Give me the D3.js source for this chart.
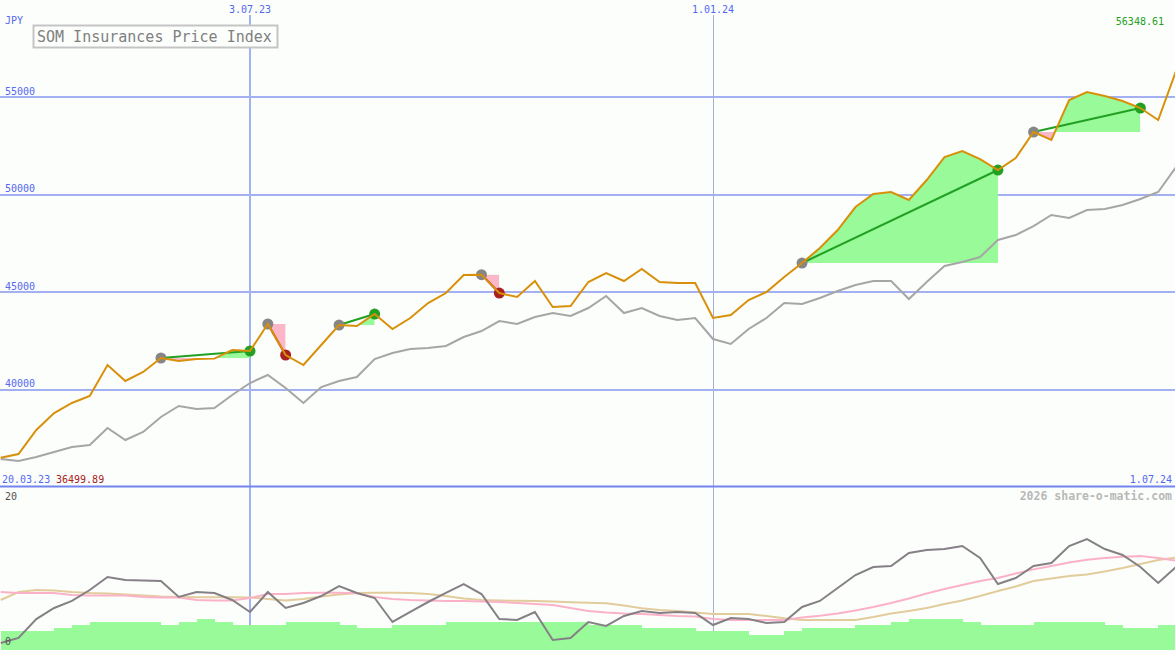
<!DOCTYPE html>
<html><head><meta charset="utf-8">
<script src="https://cdn.jsdelivr.net/npm/d3@7"></script>
<style>
html,body{margin:0;padding:0;background:#fcfefc;}
svg{display:block;}
text{font-family:"DejaVu Sans Mono",monospace;}
</style></head>
<body>
<svg id="chart" width="1175" height="650"></svg>
<script>
// ---- data (weekly, Mondays) ----
const startDate = "2023-03-27", endDate = "2024-07-02";
const priceIndex = [36499.89,36694,37926,38798,39312,39671,41262,40441,40903,41622,
  41468,41570,41590,42032,41981,43367,41776,41262,42289,43315,
  43264,43880,43110,43675,44445,44958,45882,45900,44958,44753,
  45574,44239,44291,45523,45985,45574,46190,45523,45471,45471,
  43675,43829,44599,45009,45779,46498,47268,48192,49372,50040,
  50142,49732,50758,51939,52247,51836,51272,51888,53222,52812,
  54865,55275,55070,54813,54454,53838,56348.61];
const benchmark = [36437,36335,36540,36797,37053,37156,38028,37413,37823,38593,
  39158,39004,39055,39722,40338,40749,40082,39312,40133,40441,
  40646,41570,41878,42084,42135,42238,42700,43007,43521,43367,
  43726,43931,43777,44188,44804,43931,44188,43777,43572,43675,
  42597,42340,43110,43675,44445,44393,44701,45061,45369,45574,
  45574,44650,45523,46344,46549,46806,47679,47935,48397,48962,
  48808,49218,49270,49475,49783,50142,51426];
const oscillator = [0.27,0.95,3.51,5.0,5.95,7.43,9.19,8.78,8.72,8.65,
  6.49,7.16,7.03,6.08,4.46,7.16,5.0,5.68,6.62,7.97,
  7.03,6.35,3.11,4.46,5.81,7.03,8.24,6.89,3.51,3.38,
  4.46,0.68,0.95,3.11,2.57,3.92,4.59,4.32,4.46,4.32,
  2.70,3.65,3.51,2.97,3.11,5.14,5.95,7.70,9.46,10.54,
  10.68,12.43,12.84,12.97,13.38,11.76,8.24,9.05,10.68,11.08,
  13.38,14.32,12.97,12.16,10.54,8.38,10.54];
const avgFast = [7.16,7.03,7.03,7.03,6.76,6.69,6.69,6.69,6.49,6.42,
  6.42,6.08,6.01,6.01,6.35,6.89,6.89,7.03,7.07,7.07,
  6.99,6.49,6.22,6.08,6.01,5.95,5.95,5.88,5.81,5.68,
  5.54,5.41,5.0,4.59,4.39,4.26,4.19,4.05,3.92,3.85,
  3.51,3.38,3.38,3.38,3.38,3.72,3.95,4.26,4.66,5.14,
  5.68,6.28,6.96,7.57,8.11,8.65,9.05,9.66,10.22,10.68,
  11.15,11.53,11.76,11.94,12.01,11.76,11.39];
const avgSlow = [6.08,7.16,7.43,7.36,7.16,7.03,6.96,6.82,6.69,6.55,
  6.49,6.45,6.45,6.45,6.42,6.22,6.01,6.22,6.55,6.82,
  7.03,7.07,7.07,7.03,6.89,6.62,6.28,6.08,6.01,5.97,
  5.95,5.88,5.78,5.72,5.64,5.34,4.96,4.73,4.59,4.39,
  4.19,4.19,4.19,3.92,3.61,3.38,3.38,3.38,3.38,3.78,
  4.26,4.59,5.0,5.54,6.01,6.62,7.30,7.91,8.65,8.99,
  9.32,9.53,9.93,10.41,10.95,11.49,11.80];
const volumeBars = [1.9,1.9,1.9,2.3,2.7,3.1,3.1,3.1,3.1,2.7,
  3.1,3.5,3.1,2.7,2.7,2.7,3.1,3.1,3.1,2.7,
  2.3,2.3,2.7,2.7,2.7,3.1,3.1,3.1,3.1,3.1,
  3.1,3.1,3.1,2.7,2.7,2.7,2.3,2.3,2.3,1.9,
  1.9,1.9,1.35,1.35,1.9,2.3,2.3,2.3,2.7,2.7,
  3.1,3.5,3.5,3.5,3.1,2.7,2.7,2.7,3.1,3.1,
  3.1,3.1,2.7,2.3,2.3,2.7,2.7];
// trades: [start week index, end week index, outcome]
const tradeStart = [9, 15, 19, 27, 45, 58];
const tradeEnd   = [14, 16, 21, 28, 56, 64];
const tradeWin   = [true, false, true, false, true, true];
const priceTicks = [40000, 45000, 50000, 55000];
const dateTicks = ["2023-07-03", "2024-01-01"];
const dateTickLabels = ["3.07.23", "1.01.24"];
const oscTicks = [0, 20];

// ---- layout ----
const W = 1175, H = 650, mainBottom = 487, lowTop = 488;
const svg = d3.select("#chart");
const parse = d3.utcParse("%Y-%m-%d");
const dates = d3.utcMonday.range(parse(startDate), parse(endDate));
const x = d3.scaleUtc().domain([parse(dateTicks[0]), parse(dateTicks[1])]).range([250, 713]);
const y = d3.scaleLinear().domain([35000, 60000]).range([mainBottom, 0]);
const yB = d3.scaleLinear().domain([0, 20]).range([645, 497]);
const idx = d3.range(dates.length);

svg.append("rect").attr("width", W).attr("height", H).attr("fill", "#fcfefc");

// horizontal gridlines
svg.append("g").selectAll("line").data(priceTicks).join("line")
  .attr("x1", 0).attr("x2", W).attr("y1", d => y(d)).attr("y2", d => y(d))
  .attr("stroke", "#a3b0f2").attr("stroke-width", 2).attr("shape-rendering", "crispEdges");
svg.append("g").selectAll("text").data(priceTicks).join("text")
  .attr("x", 5).attr("y", d => y(d) - 2.5).attr("font-size", 10).attr("fill", "#5468f0")
  .text(d => d);

// vertical date gridlines
dateTicks.forEach((t, k) => {
  const xx = x(parse(t));
  svg.append("line").attr("x1", xx).attr("x2", xx).attr("y1", 15).attr("y2", H)
    .attr("stroke", k === 0 ? "#a3b0f2" : "#a8acd8").attr("stroke-width", k === 0 ? 2 : 1)
    .attr("shape-rendering", "crispEdges");
  svg.append("text").attr("x", xx).attr("y", 12.5).attr("text-anchor", "middle")
    .attr("font-size", 10).attr("fill", "#5468f0").text(dateTickLabels[k]);
});

// lower panel bars
const bw = x(dates[1]) - x(dates[0]);
svg.append("g").selectAll("rect").data(idx).join("rect")
  .attr("x", i => x(dates[i])).attr("width", bw + 0.5)
  .attr("y", i => yB(volumeBars[i])).attr("height", i => H - yB(volumeBars[i]))
  .attr("fill", "#98fa98").attr("shape-rendering", "crispEdges");

const lineB = arr => d3.line().x(i => x(dates[i])).y(i => yB(arr[i]))(idx);
svg.append("path").attr("d", lineB(avgSlow)).attr("fill", "none").attr("stroke", "#e2cc9c").attr("stroke-width", 2);
svg.append("path").attr("d", lineB(avgFast)).attr("fill", "none").attr("stroke", "#fbb2c8").attr("stroke-width", 2);
svg.append("path").attr("d", lineB(oscillator)).attr("fill", "none").attr("stroke", "#858085").attr("stroke-width", 2);

// divider
svg.append("line").attr("x1", 0).attr("x2", W).attr("y1", 486.5).attr("y2", 486.5)
  .attr("stroke", "#7484ee").attr("stroke-width", 2);

// trade fills
const defs = svg.append("defs");
tradeStart.forEach((s, k) => {
  const e = tradeEnd[k];
  const x0 = x(dates[s]), x1 = x(dates[e]), yl = y(priceIndex[s]);
  defs.append("clipPath").attr("id", "up" + k).append("rect")
    .attr("x", x0).attr("y", 0).attr("width", x1 - x0).attr("height", yl);
  defs.append("clipPath").attr("id", "dn" + k).append("rect")
    .attr("x", x0).attr("y", yl).attr("width", x1 - x0).attr("height", mainBottom - yl);
  const a = d3.area().x(i => x(dates[i])).y0(yl).y1(i => y(priceIndex[i]))(d3.range(s, e + 1));
  svg.append("path").attr("d", a).attr("fill", "#98fa98").attr("clip-path", `url(#up${k})`);
  svg.append("path").attr("d", a).attr("fill", "#fbb6c8").attr("clip-path", `url(#dn${k})`);
});

// benchmark line
const lineM = arr => d3.line().x(i => x(dates[i])).y(i => y(arr[i]))(idx);
svg.append("path").attr("d", lineM(benchmark)).attr("fill", "none").attr("stroke", "#a6a6a6").attr("stroke-width", 2);

// trade lines & markers
tradeStart.forEach((s, k) => {
  const e = tradeEnd[k];
  const col = tradeWin[k] ? "#22a022" : "#a82020";
  svg.append("line").attr("x1", x(dates[s])).attr("y1", y(priceIndex[s]))
    .attr("x2", x(dates[e])).attr("y2", y(priceIndex[e])).attr("stroke", col).attr("stroke-width", 2);
  svg.append("circle").attr("cx", x(dates[s])).attr("cy", y(priceIndex[s])).attr("r", 5.5).attr("fill", "#868686");
  svg.append("circle").attr("cx", x(dates[e])).attr("cy", y(priceIndex[e])).attr("r", 5.5).attr("fill", col);
});

// price line
svg.append("path").attr("d", lineM(priceIndex)).attr("fill", "none").attr("stroke", "#d8900a").attr("stroke-width", 2);

// texts
svg.append("text").attr("x", 5).attr("y", 24).attr("font-size", 10).attr("fill", "#5468f0").text("JPY");
svg.append("rect").attr("x", 33.5).attr("y", 25.5).attr("width", 244).attr("height", 22)
  .attr("fill", "#fcfefc").attr("stroke", "#c4c4c4").attr("stroke-width", 2);
svg.append("text").attr("x", 37).attr("y", 42).attr("font-size", 15).attr("fill", "#808080")
  .text("SOM Insurances Price Index");
svg.append("text").attr("x", 1164).attr("y", 25).attr("text-anchor", "end").attr("font-size", 10)
  .attr("fill", "#22a022").text(d3.format(".2f")(d3.max(priceIndex)));
svg.append("text").attr("x", 2).attr("y", 482.5).attr("font-size", 10).attr("fill", "#5468f0").text("20.03.23");
svg.append("text").attr("x", 56).attr("y", 482.5).attr("font-size", 10).attr("fill", "#a82020")
  .text(d3.format(".2f")(d3.min(priceIndex)));
svg.append("text").attr("x", 1172).attr("y", 482.5).attr("text-anchor", "end").attr("font-size", 10)
  .attr("fill", "#5468f0").text("1.07.24");
svg.append("text").attr("x", 1172).attr("y", 500).attr("text-anchor", "end").attr("font-size", 11.5)
  .attr("font-weight", "bold").attr("fill", "#b8b8b8").text("2026 share-o-matic.com");
svg.append("g").selectAll("text").data(oscTicks).join("text")
  .attr("x", 5).attr("y", d => d === 0 ? 645 : yB(d) + 2.5).attr("font-size", 10).attr("fill", "#505050")
  .text(d => d);
</script>
</body></html>
